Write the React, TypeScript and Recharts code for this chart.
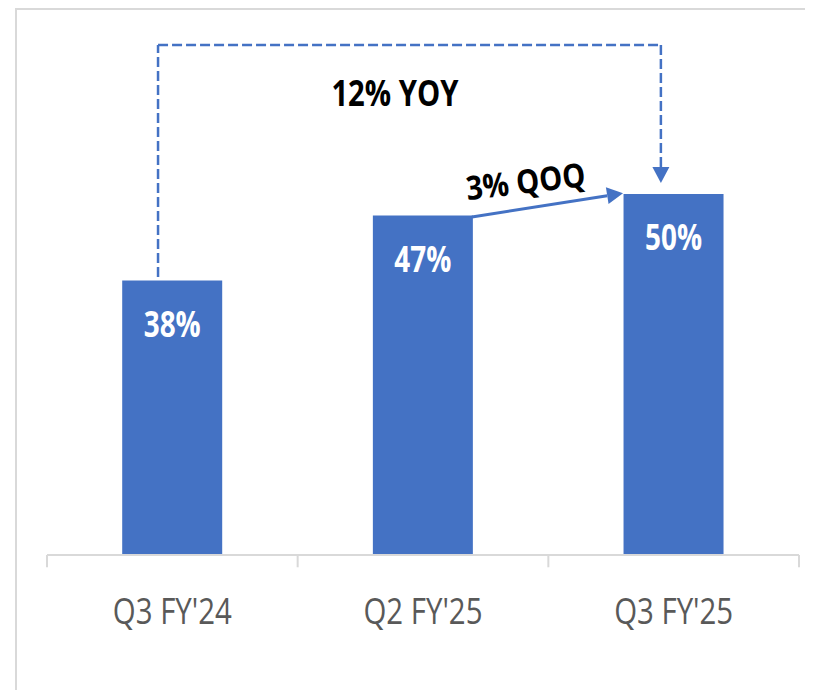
import { BarChart, Bar, XAxis, YAxis, LabelList, ReferenceLine, ReferenceDot } from 'recharts'

const quarters = ["Q3 FY'24", "Q2 FY'25", "Q3 FY'25"]
const share = [38, 47, 50]

// annotation anchors (x in bar-index units, bar centres at 0,1,2; y in %)
const yoyPath = [
  { x: -0.057, y: 38.5 },
  { x: -0.057, y: 70.6 },
  { x: 1.949, y: 70.6 },
  { x: 1.949, y: 51.5 },
]
const qoqArrow = [
  { x: 1.195, y: 46.8 },
  { x: 1.798, y: 50.1 },
]
const yoyText = { x: 0.888, y: 62.2, text: '12% YOY' }
const qoqText = { x: 1.415, y: 50.1, text: '3% QOQ' }
const boundaries = [-0.5, 0.5, 1.5, 2.5]

const data = quarters.map((q, i) => ({ quarter: q, value: share[i] }))

const BLUE = '#4472C4'
const GRID = '#D9D9D9'
const FONT = "'Open Sans', 'DejaVu Sans', sans-serif"

function QuarterTick(props: any) {
  const { x, y, payload } = props
  return (
    <text x={x} y={y + 69} textAnchor="middle" fill="#595959" fontSize={37} fontFamily={FONT}
      textLength={119} lengthAdjust="spacingAndGlyphs">
      {payload.value}
    </text>
  )
}

function BarValue(props: any) {
  const { x, y, width, value } = props
  return (
    <text x={x + width / 2} y={y + 56} textAnchor="middle" fill="#fff" fontSize={36} fontWeight={700}
      fontFamily={FONT} textLength={57} lengthAdjust="spacingAndGlyphs">
      {value}%
    </text>
  )
}

function ArrowLine(props: any) {
  const { x1, y1, x2, y2, stroke, strokeWidth, strokeDasharray } = props
  const len = Math.hypot(x2 - x1, y2 - y1)
  const ux = (x2 - x1) / len
  const uy = (y2 - y1) / len
  const head = 16
  const half = 8.5
  const bx = x2 - ux * head
  const by = y2 - uy * head
  const pts = `${x2},${y2} ${bx - uy * half},${by + ux * half} ${bx + uy * half},${by - ux * half}`
  return (
    <g>
      <line x1={x1} y1={y1} x2={bx} y2={by} stroke={stroke} strokeWidth={strokeWidth} strokeDasharray={strokeDasharray} />
      <polygon points={pts} fill={stroke} />
    </g>
  )
}

export default function App() {
  return (
    <div style={{ margin: -8, position: 'relative', width: 813, height: 698, overflow: 'hidden', background: '#fff' }}>
      <div style={{ position: 'absolute', left: 0, top: 0, width: 1, height: 698, background: GRID }} />
      <div style={{ position: 'absolute', left: 15, top: 8, width: 820, height: 720, borderTop: `2px solid ${GRID}`, borderLeft: `2px solid ${GRID}` }} />
      <div style={{ position: 'absolute', left: 0, top: 0 }}>
        <BarChart width={813} height={698} data={data} margin={{ top: 35, right: 14, left: 47, bottom: 83 }} barCategoryGap="30%">
          <XAxis dataKey="quarter" height={60} tick={<QuarterTick />} tickLine={false} tickSize={0} tickMargin={0}
            axisLine={{ stroke: GRID, strokeWidth: 2 }} interval={0} />
          <XAxis xAxisId="n" type="number" domain={[0, 2]} allowDataOverflow hide padding={{ left: 125.33, right: 125.33 }} />
          <YAxis hide domain={[0, 72]} allowDataOverflow />
          <Bar dataKey="value" fill={BLUE} isAnimationActive={false}>
            <LabelList dataKey="value" content={<BarValue />} />
          </Bar>
          {boundaries.map((b) => (
            <ReferenceLine key={b} xAxisId="n" ifOverflow="visible" stroke={GRID} strokeWidth={2}
              segment={[{ x: b, y: 0 }, { x: b, y: -1.7 }]} />
          ))}
          {yoyPath.slice(0, -1).map((p, i) => {
            const q = yoyPath[i + 1]
            const last = i === yoyPath.length - 2
            return (
              <ReferenceLine key={'yoy' + i} xAxisId="n" ifOverflow="visible" stroke={BLUE} strokeWidth={2.5}
                strokeDasharray="10 4" segment={[p, q]} shape={last ? ArrowLine : undefined} />
            )
          })}
          <ReferenceLine xAxisId="n" ifOverflow="visible" stroke={BLUE} strokeWidth={3}
            segment={qoqArrow} shape={ArrowLine} />
          <ReferenceDot xAxisId="n" x={yoyText.x} y={yoyText.y} r={0} ifOverflow="visible"
            shape={(p: any) => (
              <text x={p.cx} y={p.cy} textAnchor="middle" fill="#000" fontSize={36} fontWeight={700}
                fontFamily={FONT} textLength={127} lengthAdjust="spacingAndGlyphs">{yoyText.text}</text>
            )} />
          <ReferenceDot xAxisId="n" x={qoqText.x} y={qoqText.y} r={0} ifOverflow="visible"
            shape={(p: any) => (
              <text x={p.cx} y={p.cy} textAnchor="middle" fill="#000" fontSize={33} fontWeight={700}
                fontFamily={FONT} textLength={120} lengthAdjust="spacingAndGlyphs"
                transform={`rotate(-6.7 ${p.cx} ${p.cy})`}>{qoqText.text}</text>
            )} />
        </BarChart>
      </div>
    </div>
  )
}
